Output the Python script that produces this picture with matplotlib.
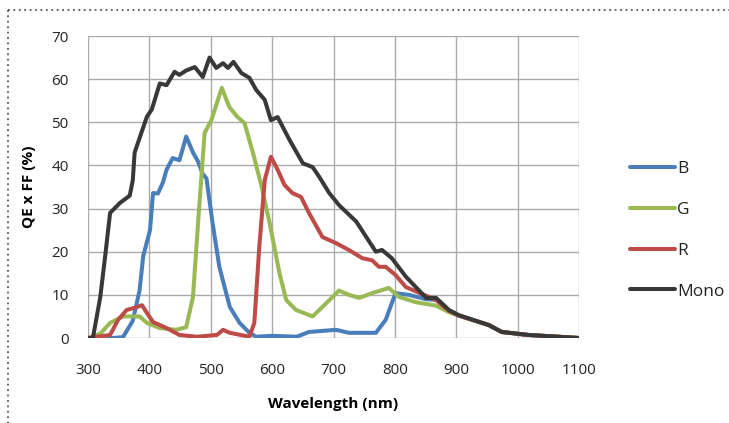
import matplotlib
matplotlib.use("Agg")
import matplotlib.pyplot as plt
from matplotlib.lines import Line2D

# ---- data ----
mono_wl = [300, 308, 320, 328, 336, 352, 368, 373, 376, 388, 396, 404, 417, 428, 441, 449, 460,
           474, 487, 498, 509, 520, 528, 537, 550, 563, 574, 588, 598, 609, 628, 650, 666, 677,
           693, 709, 737, 769, 779, 795, 818, 851, 867, 888, 904, 953, 974, 1018, 1100]
mono_val = [0, 0, 9.5, 19, 29, 31.3, 33, 36.6, 43, 48, 51.3, 53, 59, 58.6, 61.7, 61, 62,
            62.8, 60.5, 65, 62.6, 63.7, 62.6, 64, 61.4, 60.3, 57.5, 55.2, 50.5, 51.2, 46, 40.5, 39.6, 37.3,
            33.6, 30.8, 27, 20, 20.4, 18.5, 14.2, 9.3, 9.3, 6.5, 5.3, 3, 1.4, 0.7, 0]

b_wl = [300, 340, 357, 373, 384, 390, 401, 406, 414, 422, 428, 438, 449, 460, 471, 479, 487,
        493, 503, 514, 531, 547, 563, 574, 600, 640, 660, 704, 725, 769, 785, 801, 823, 850,
        870, 888, 904, 953, 974, 1018, 1100]
b_val = [0, 0, 0.2, 4, 11, 19, 25, 33.6, 33.5, 36, 39, 41.7, 41.2, 46.7, 43, 41, 38,
         37, 26.6, 16.5, 7.2, 3.5, 1.2, 0.3, 0.5, 0.3, 1.4, 1.9, 1.2, 1.2, 4.2, 10.4, 10, 9,
         8.8, 6.3, 5.2, 3, 1.4, 0.7, 0]

g_wl = [300, 320, 336, 357, 384, 396, 417, 444, 460, 471, 480, 490, 501, 518, 530, 543, 555,
        569, 583, 596, 612, 623, 639, 666, 682, 709, 725, 742, 763, 790, 807, 834, 867, 888,
        904, 953, 974, 1018, 1100]
g_val = [0, 1, 3.5, 5, 5, 3.5, 2.3, 1.9, 2.5, 9.5, 28, 47.5, 50.5, 58, 53.6, 51.3, 49.8,
         42.8, 35, 26.6, 15, 8.8, 6.5, 5, 7.2, 11, 10, 9.3, 10.4, 11.6, 9.5, 8.3, 7.5, 6,
         5.2, 3, 1.4, 0.7, 0]

r_wl = [300, 336, 349, 363, 376, 388, 396, 406, 428, 449, 477, 510, 520, 531, 563, 571, 579,
        588, 598, 609, 620, 633, 647, 660, 682, 704, 725, 747, 763, 774, 785, 801, 818, 867,
        888, 904, 953, 974, 1018, 1100]
r_val = [0, 0.7, 4.2, 6.5, 7, 7.6, 5.8, 3.7, 2.3, 0.7, 0.3, 0.7, 1.9, 1.2, 0.3, 3.5, 21,
         36.6, 42, 39, 35.5, 33.6, 32.7, 29, 23.4, 22, 20.4, 18.5, 18, 16.5, 16.5, 14.6, 11.8, 8.8,
         6.3, 5.2, 3, 1.4, 0.7, 0]

x_ticks = [300, 400, 500, 600, 700, 800, 900, 1000, 1100]
y_ticks = [0, 10, 20, 30, 40, 50, 60, 70]

colors = {"B": "#4A7EBB", "G": "#98B954", "R": "#BE4B48", "Mono": "#383838"}

plt.rcParams['font.family'] = ['Open Sans', 'DejaVu Sans']

fig = plt.figure(figsize=(7.29, 4.23), dpi=100)
ax = fig.add_axes([88/729, 1-338/423, (579-88)/729, (338-36)/423])

lw = 2.9
kw = dict(lw=lw, solid_joinstyle='round', solid_capstyle='round')
ax.plot(b_wl, b_val, color=colors["B"], label="B", zorder=3, **kw)
ax.plot(g_wl, g_val, color=colors["G"], label="G", zorder=3, **kw)
ax.plot(r_wl, r_val, color=colors["R"], label="R", zorder=3, **kw)
ax.plot(mono_wl, mono_val, color=colors["Mono"], label="Mono", zorder=4, **kw)

ax.set_xlim(300, 1100)
ax.set_ylim(0, 70)
ax.set_xticks(x_ticks)
ax.set_yticks(y_ticks)
ax.grid(True, color="#ABABAB", lw=1.0)
ax.set_axisbelow(True)
for s in ax.spines.values():
    s.set_visible(False)
ax.tick_params(length=0, labelsize=11, colors="#222222")
ax.tick_params(axis='x', pad=18)
ax.tick_params(axis='y', pad=14)
ax.set_xlabel("Wavelength (nm)", fontsize=11, fontweight='bold', labelpad=14)
ax.set_ylabel("QE x FF (%)", fontsize=11, fontweight='bold', labelpad=11)

leg = ax.legend(loc='upper left', bbox_to_anchor=(630/729, 1-161/423), bbox_transform=fig.transFigure,
                frameon=False, fontsize=12.5, handlelength=2.6, handletextpad=0.12,
                labelspacing=1.42, borderpad=0, borderaxespad=0)
for t in leg.get_texts():
    t.set_color("#222222")

# dotted frame (top and left)
fig.add_artist(Line2D([8/729, 1.0], [1-10/423, 1-10/423], transform=fig.transFigure,
                      color="#555555", lw=1.3, linestyle=(0, (1, 2))))
fig.add_artist(Line2D([8/729, 8/729], [1-10/423, 0], transform=fig.transFigure,
                      color="#555555", lw=1.3, linestyle=(0, (1, 2))))

fig.savefig("out.png", dpi=100)
